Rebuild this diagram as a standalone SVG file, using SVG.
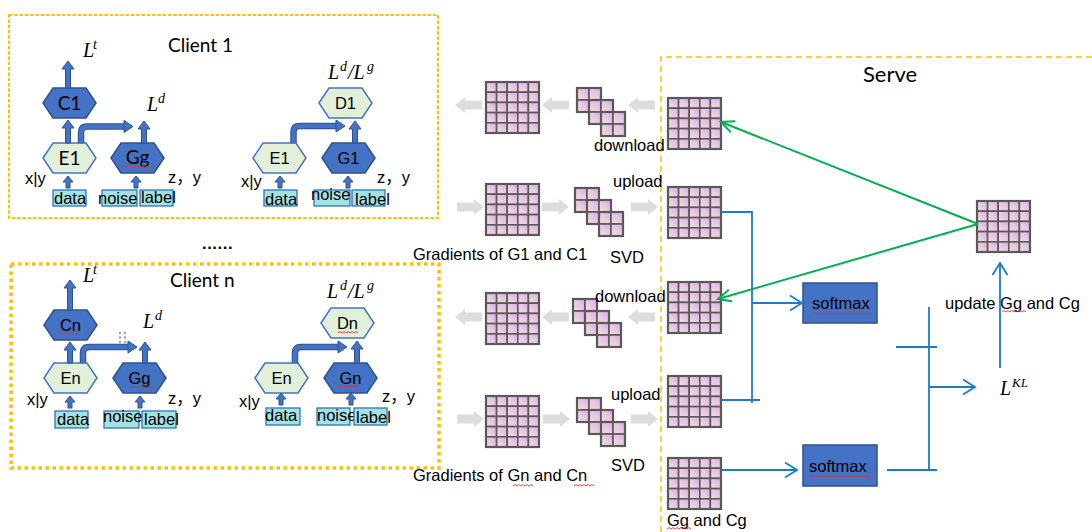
<svg xmlns="http://www.w3.org/2000/svg" width="1092" height="532" viewBox="0 0 1092 532">
<style>
.t{font-family:"Liberation Sans",Arial,sans-serif;font-size:16.5px;fill:#000}
.cal{font-family:Lato,"Open Sans",sans-serif;fill:#000}
.m{font-family:"Liberation Serif","Times New Roman",serif;font-style:italic;font-size:20px;fill:#000}
.sup{font-size:14px}
.hb{fill:#4472C4;stroke:#2F528F;stroke-width:1.5}
.hl{fill:#E2F0D9;stroke:#4472C4;stroke-width:1.5}
.bx{fill:#A3E2E4;stroke:#2E75B6;stroke-width:1.3}
.ba{fill:#4472C4;stroke:#2F528F;stroke-width:1}
.bo{fill:none;stroke:#2F528F;stroke-width:6.5}
.bi{fill:none;stroke:#4472C4;stroke-width:4.5}
.ga{fill:#DDDDDD}
.c{fill:url(#cell);stroke:#595959;stroke-width:1.6}
.blk{fill:none;stroke:#595959;stroke-width:2.2}
.gl{fill:none;stroke:#00B050;stroke-width:2}
.bl{fill:none;stroke:#1F7BC8;stroke-width:1.8}
.sq{fill:none;stroke:#E03030;stroke-width:0.9}
.sm{fill:#4472C4;stroke:#2F528F;stroke-width:1.5}
</style>
<defs>
  <linearGradient id="cell" x1="0" y1="1" x2="1" y2="0">
    <stop offset="0" stop-color="#F4E2CC"/>
    <stop offset="0.55" stop-color="#E6C5E6"/>
    <stop offset="1" stop-color="#D5A9E6"/>
  </linearGradient>
  <!-- 5x5 weight matrix -->
  <g id="mat">
    <rect class="c" x="0" y="0" width="10.6" height="10.2"/><rect class="c" x="10.6" y="0" width="10.6" height="10.2"/><rect class="c" x="21.2" y="0" width="10.6" height="10.2"/><rect class="c" x="31.8" y="0" width="10.6" height="10.2"/><rect class="c" x="42.4" y="0" width="10.6" height="10.2"/>
    <rect class="c" x="0" y="10.2" width="10.6" height="10.2"/><rect class="c" x="10.6" y="10.2" width="10.6" height="10.2"/><rect class="c" x="21.2" y="10.2" width="10.6" height="10.2"/><rect class="c" x="31.8" y="10.2" width="10.6" height="10.2"/><rect class="c" x="42.4" y="10.2" width="10.6" height="10.2"/>
    <rect class="c" x="0" y="20.4" width="10.6" height="10.2"/><rect class="c" x="10.6" y="20.4" width="10.6" height="10.2"/><rect class="c" x="21.2" y="20.4" width="10.6" height="10.2"/><rect class="c" x="31.8" y="20.4" width="10.6" height="10.2"/><rect class="c" x="42.4" y="20.4" width="10.6" height="10.2"/>
    <rect class="c" x="0" y="30.6" width="10.6" height="10.2"/><rect class="c" x="10.6" y="30.6" width="10.6" height="10.2"/><rect class="c" x="21.2" y="30.6" width="10.6" height="10.2"/><rect class="c" x="31.8" y="30.6" width="10.6" height="10.2"/><rect class="c" x="42.4" y="30.6" width="10.6" height="10.2"/>
    <rect class="c" x="0" y="40.8" width="10.6" height="10.2"/><rect class="c" x="10.6" y="40.8" width="10.6" height="10.2"/><rect class="c" x="21.2" y="40.8" width="10.6" height="10.2"/><rect class="c" x="31.8" y="40.8" width="10.6" height="10.2"/><rect class="c" x="42.4" y="40.8" width="10.6" height="10.2"/>
    <rect class="blk" x="0" y="0" width="53" height="51" stroke-width="1.8"/>
  </g>
  <!-- SVD block-diagonal factors -->
  <g id="blk2">
    <rect class="c" x="0" y="0" width="12" height="12"/><rect class="c" x="12" y="0" width="12" height="12"/>
    <rect class="c" x="0" y="12" width="12" height="12"/><rect class="c" x="12" y="12" width="12" height="12"/>
    <rect class="blk" x="0" y="0" width="24" height="24"/>
  </g>
  <g id="svd">
    <use href="#blk2"/>
    <use href="#blk2" x="12" y="12"/>
    <use href="#blk2" x="24" y="24"/>
  </g>
  <!-- grey transfer arrow, tip at origin pointing left -->
  <path id="gar" class="ga" d="M0,0 L10,-8 V-4.5 H27 V4.5 H10 V8 Z"/>
  <marker id="ag" markerUnits="userSpaceOnUse" markerWidth="20" markerHeight="20" viewBox="-16 -10 20 20" refX="0" refY="0" orient="auto">
    <path d="M-13,-6 L0,0 L-13,6" fill="none" stroke="#00B050" stroke-width="2"/>
  </marker>
  <marker id="ab" markerUnits="userSpaceOnUse" markerWidth="20" markerHeight="20" viewBox="-16 -10 20 20" refX="0" refY="0" orient="auto">
    <path d="M-12,-7.5 L0,0 L-12,7.5" fill="none" stroke="#1F7BC8" stroke-width="1.8"/>
  </marker>
</defs>

<rect width="1092" height="532" fill="#FFFFFF"/>

<!-- frames -->
<g id="frames">
  <rect x="9" y="15" width="429" height="203" fill="none" stroke="#FFC000" stroke-width="2.2" stroke-dasharray="3.5 1.8"/>
  <rect x="11" y="264" width="428" height="204" fill="none" stroke="#FFC000" stroke-width="3.5" stroke-dasharray="3.5 3.5"/>
  <path d="M661,532 V57 H1092" fill="none" stroke="#FFC000" stroke-width="1.5" stroke-dasharray="6 4"/>
  <text class="cal" x="168" y="52" font-size="19">Client 1</text>
  <text class="cal" x="170" y="287" font-size="19">Client n</text>
  <text class="cal" x="863" y="82" font-size="22">Serve</text>
  <text class="t" x="202" y="249" font-size="20" font-weight="bold" letter-spacing="0.6">......</text>
</g>

<!-- Client 1 -->
<g id="client1-C1"><polygon class="hb" points="43,103 53,88 86,88 96,103 86,118 53,118"/><text class="cal" x="69.5" y="110" font-size="19" text-anchor="middle">C1</text></g>
<g id="client1-E1"><polygon class="hl" points="43,158 53,143 86,143 96,158 86,173 53,173"/><text class="cal" x="69.5" y="165" font-size="19" text-anchor="middle">E1</text></g>
<g id="client1-Gg"><polygon class="hb" points="111,158 121,143 154,143 164,158 154,173 121,173"/><text class="cal" x="137.5" y="164" font-size="19" text-anchor="middle">Gg</text>
  <path class="sq" d="M123,167l2,-1.5l2,1.5l2,-1.5l2,1.5l2,-1.5l2,1.5l2,-1.5l2,1.5l2,-1.5l2,1.5l2,-1.5l2,1.5l2,-1.5l2,1.5"/></g>
<g id="client1-data"><rect class="bx" x="53" y="190" width="33" height="16"/><text class="t" x="54" y="204" font-size="16">data</text></g>
<g id="client1-noise"><rect class="bx" x="102" y="190" width="35" height="16"/><text class="t" x="98" y="204" font-size="16">noise</text></g>
<g id="client1-label"><rect class="bx" x="140" y="190" width="33" height="16"/><text class="t" x="141" y="203" font-size="15">label</text></g>
<g id="client1-labels">
  <text class="m" x="83" y="57">L<tspan class="sup" x="93" y="49">t</tspan></text>
  <text class="m" x="147" y="111">L<tspan class="sup" x="158" y="103">d</tspan></text>
  <text class="t" x="25" y="184" font-size="16">x|y</text>
  <text class="t" x="168" y="183" font-size="16">z<tspan font-family="'Noto Sans CJK SC',sans-serif">，</tspan>y</text>
</g>

<g id="client1-D1"><polygon class="hl" points="319,103 329,88 362,88 372,103 362,118 329,118"/><text class="t" x="345.5" y="109" font-size="16.5" text-anchor="middle">D1</text></g>
<g id="client1-E1b"><polygon class="hl" points="253,158 263,143 296,143 306,158 296,173 263,173"/><text class="t" x="279.5" y="164" font-size="16.5" text-anchor="middle">E1</text></g>
<g id="client1-G1"><polygon class="hb" points="322,158 332,143 365,143 375,158 365,173 332,173"/><text class="t" x="348.5" y="164" font-size="16.5" text-anchor="middle">G1</text></g>
<g id="client1-data2"><rect class="bx" x="264" y="190" width="33" height="16"/><text class="t" x="265" y="205" font-size="16.5">data</text></g>
<g id="client1-noise2"><rect class="bx" x="314" y="190" width="36" height="16"/><text class="t" x="311" y="200" font-size="16.5">noise</text></g>
<g id="client1-label2"><rect class="bx" x="352" y="190" width="33" height="16"/><text class="t" x="355" y="205" font-size="17">label</text></g>
<g id="client1-labels2">
  <text class="m" x="328" y="79">L<tspan class="sup" x="340" y="71">d</tspan><tspan x="348" y="79">/L</tspan><tspan class="sup" x="367" y="71">g</tspan></text>
  <text class="t" x="241" y="187" font-size="16">x|y</text>
  <text class="t" x="377" y="183" font-size="16">z<tspan font-family="'Noto Sans CJK SC',sans-serif">，</tspan>y</text>
</g>

<!-- Client n -->
<g id="clientn-Cn"><polygon class="hb" points="44,325 54,310 87,310 97,325 87,340 54,340"/><text class="t" x="70.5" y="331" font-size="16.5" text-anchor="middle">Cn</text>
  <path class="sq" d="M60,334l2,-1.5l2,1.5l2,-1.5l2,1.5l2,-1.5l2,1.5l2,-1.5l2,1.5l2,-1.5l2,1.5"/></g>
<g id="clientn-En"><polygon class="hl" points="44,378 54,363 87,363 97,378 87,393 54,393"/><text class="t" x="70.5" y="384" font-size="16.5" text-anchor="middle">En</text></g>
<g id="clientn-Gg"><polygon class="hb" points="113,378 123,363 156,363 166,378 156,393 123,393"/><text class="t" x="139.5" y="384" font-size="16.5" text-anchor="middle">Gg</text>
  <path class="sq" d="M130,388l2,-1.5l2,1.5l2,-1.5l2,1.5l2,-1.5l2,1.5l2,-1.5l2,1.5l2,-1.5l2,1.5l2,-1.5l2,1.5"/></g>
<g id="clientn-data"><rect class="bx" x="55" y="411" width="33" height="17"/><text class="t" x="57" y="425" font-size="16.5">data</text></g>
<g id="clientn-noise"><rect class="bx" x="104" y="411" width="35" height="17"/><text class="t" x="103" y="422" font-size="16.3">noise</text></g>
<g id="clientn-label"><rect class="bx" x="142" y="411" width="34" height="17"/><text class="t" x="144" y="425" font-size="17.5">label</text></g>
<g id="clientn-handle" fill="#A0A0A0">
  <circle cx="120" cy="333" r="1.2"/><circle cx="125" cy="333" r="1.2"/>
  <circle cx="120" cy="337.5" r="1.2"/><circle cx="125" cy="337.5" r="1.2"/>
  <circle cx="120" cy="342" r="1.2"/><circle cx="125" cy="342" r="1.2"/>
</g>
<g id="clientn-labels">
  <text class="m" x="83" y="282">L<tspan class="sup" x="93" y="274">t</tspan></text>
  <text class="m" x="143" y="328">L<tspan class="sup" x="155" y="320">d</tspan></text>
  <text class="t" x="27" y="405" font-size="16">x|y</text>
  <text class="t" x="168" y="404" font-size="16">z<tspan font-family="'Noto Sans CJK SC',sans-serif">，</tspan>y</text>
</g>

<g id="clientn-Dn"><polygon class="hl" points="321,323 331,308 364,308 374,323 364,338 331,338"/><text class="t" x="347.5" y="329" font-size="16.5" text-anchor="middle">Dn</text>
  <path class="sq" d="M338,333l2,-1.5l2,1.5l2,-1.5l2,1.5l2,-1.5l2,1.5l2,-1.5l2,1.5l2,-1.5l2,1.5"/></g>
<g id="clientn-En2"><polygon class="hl" points="255,378 265,363 298,363 308,378 298,393 265,393"/><text class="t" x="281.5" y="384" font-size="16.5" text-anchor="middle">En</text></g>
<g id="clientn-Gn"><polygon class="hb" points="324,378 334,363 367,363 377,378 367,393 334,393"/><text class="t" x="350.5" y="384" font-size="16.5" text-anchor="middle">Gn</text>
  <path class="sq" d="M337,387l2,-1.5l2,1.5l2,-1.5l2,1.5l2,-1.5l2,1.5l2,-1.5l2,1.5l2,-1.5l2,1.5"/></g>
<g id="clientn-data2"><rect class="bx" x="266" y="408" width="34" height="17"/><text class="t" x="265" y="421" font-size="17.5">data</text></g>
<g id="clientn-noise2"><rect class="bx" x="317" y="408" width="33" height="17"/><text class="t" x="317" y="421" font-size="15">noise</text></g>
<g id="clientn-label2"><rect class="bx" x="354" y="408" width="33" height="17"/><text class="t" x="356" y="423" font-size="18">label</text></g>
<g id="clientn-labels2">
  <text class="m" x="327" y="298">L<tspan class="sup" x="340" y="290">d</tspan><tspan x="348" y="298">/L</tspan><tspan class="sup" x="367" y="290">g</tspan></text>
  <text class="t" x="239" y="407" font-size="16">x|y</text>
  <text class="t" x="382" y="402" font-size="16">z<tspan font-family="'Noto Sans CJK SC',sans-serif">，</tspan>y</text>
</g>

<!-- gradient matrices and SVD factors -->
<g id="mat-g1-down"><use href="#mat" x="486" y="82"/></g>
<g id="svd-g1-down"><use href="#svd" x="577" y="88"/></g>
<g id="mat-g1-up"><use href="#mat" x="486" y="184"/></g>
<g id="svd-g1-up"><use href="#svd" x="575" y="188"/></g>
<g id="mat-gn-down"><use href="#mat" x="486" y="293"/></g>
<g id="svd-gn-down"><use href="#svd" x="573" y="299"/></g>
<g id="mat-gn-up"><use href="#mat" x="486" y="396"/></g>
<g id="svd-gn-up"><use href="#svd" x="577" y="398"/></g>
<g id="mid-labels">
  <text class="t" x="594" y="151">download</text>
  <text class="t" x="613" y="187">upload</text>
  <text class="t" x="413" y="260">Gradients of G1 and C1</text>
  <text class="t" x="610" y="263">SVD</text>
  <text class="t" x="595" y="302">download</text>
  <text class="t" x="611" y="400">upload</text>
  <text class="t" x="611" y="471">SVD</text>
  <text class="t" x="413" y="481">Gradients of Gn and Cn</text>
  <path class="sq" d="M513,486l2,-1.5l2,1.5l2,-1.5l2,1.5l2,-1.5l2,1.5l2,-1.5l2,1.5l2,-1.5l2,1.5"/>
  <path class="sq" d="M574,486l2,-1.5l2,1.5l2,-1.5l2,1.5l2,-1.5l2,1.5l2,-1.5l2,1.5l2,-1.5l2,1.5"/>
</g>

<!-- server -->
<g id="srv-m1"><use href="#mat" x="668" y="98"/></g>
<g id="srv-m2"><use href="#mat" x="668" y="187"/></g>
<g id="srv-m3"><use href="#mat" x="668" y="282"/></g>
<g id="srv-m4"><use href="#mat" x="668" y="376"/></g>
<g id="srv-m5"><use href="#mat" x="668" y="458"/></g>
<g id="srv-global"><use href="#mat" x="977" y="201"/></g>
<g id="softmax1"><rect class="sm" x="803" y="283" width="74" height="40"/><text class="t" x="812" y="309">softmax</text>
  <path class="sq" d="M812,314l2,-1.5l2,1.5l2,-1.5l2,1.5l2,-1.5l2,1.5l2,-1.5l2,1.5l2,-1.5l2,1.5l2,-1.5l2,1.5l2,-1.5l2,1.5l2,-1.5l2,1.5l2,-1.5l2,1.5l2,-1.5l2,1.5l2,-1.5l2,1.5l2,-1.5l2,1.5l2,-1.5l2,1.5l2,-1.5l2,1.5l2,-1.5l2,1.5"/></g>
<g id="softmax2"><rect class="sm" x="803" y="445" width="74" height="41"/><text class="t" x="809" y="472">softmax</text>
  <path class="sq" d="M809,477l2,-1.5l2,1.5l2,-1.5l2,1.5l2,-1.5l2,1.5l2,-1.5l2,1.5l2,-1.5l2,1.5l2,-1.5l2,1.5l2,-1.5l2,1.5l2,-1.5l2,1.5l2,-1.5l2,1.5l2,-1.5l2,1.5l2,-1.5l2,1.5l2,-1.5l2,1.5l2,-1.5l2,1.5l2,-1.5l2,1.5l2,-1.5l2,1.5"/></g>
<g id="srv-labels">
  <text class="m" x="1000" y="395">L<tspan font-size="13" x="1012" y="387">KL</tspan></text>
  <text class="t" x="945" y="309">update Gg and Cg</text>
  <path class="sq" d="M1002,312l2,-1.5l2,1.5l2,-1.5l2,1.5l2,-1.5l2,1.5l2,-1.5l2,1.5l2,-1.5l2,1.5l2,-1.5l2,1.5"/>
  <text class="t" x="667" y="526">Gg and Cg</text>
  <path class="sq" d="M667,529l2,-1.5l2,1.5l2,-1.5l2,1.5l2,-1.5l2,1.5l2,-1.5l2,1.5l2,-1.5l2,1.5l2,-1.5l2,1.5"/>
</g>

<!-- connectors -->
<g id="connectors">
  <!-- client block arrows -->
  <path class="ba" d="M65.5,88V69H62L68,61L74,69H70.5V88Z"/>
  <path class="ba" d="M65.5,143V128H62L68,120L74,128H70.5V143Z"/>
  <path class="ba" d="M141.5,143V129H138L144,121L150,129H146.5V143Z"/>
  <path class="ba" d="M352.5,143V129H349L355,121L361,129H357.5V143Z"/>
  <path class="ba" d="M67.5,310V288H64L70,280L76,288H72.5V310Z"/>
  <path class="ba" d="M67.5,363V350H64L70,342L76,350H72.5V363Z"/>
  <path class="ba" d="M142.5,363V350H139L145,342L151,350H147.5V363Z"/>
  <path class="ba" d="M354.5,363V349H351L357,341L363,349H359.5V363Z"/>
  <path class="ba" d="M66,188V182H63L68,176L73,182H70V188Z"/>
  <path class="ba" d="M134,188V182H131L136,176L141,182H138V188Z"/>
  <path class="ba" d="M278,188V182H275L280,176L285,182H282V188Z"/>
  <path class="ba" d="M346,188V182H343L348,176L353,182H350V188Z"/>
  <path class="ba" d="M68,408V402H65L70,396L75,402H72V408Z"/>
  <path class="ba" d="M138,408V402H135L140,396L145,402H142V408Z"/>
  <path class="ba" d="M279,405V399H276L281,393L286,399H283V405Z"/>
  <path class="ba" d="M349,405V399H346L351,393L356,399H353V405Z"/>
  <!-- bent arrows from encoders -->
  <path class="bo" d="M81,143 V132.5 Q81,126.5 87,126.5 H125"/><path class="bi" d="M81,143.5 V132.5 Q81,126.5 87,126.5 H126"/><polygon class="ba" points="124,120.5 133,126.5 124,132.5"/>
  <path class="bo" d="M293.5,143 V132 Q293.5,126 299.5,126 H337"/><path class="bi" d="M293.5,143.5 V132 Q293.5,126 299.5,126 H338"/><polygon class="ba" points="336,120 345,126 336,132"/>
  <path class="bo" d="M83,363 V353 Q83,347 89,347 H129"/><path class="bi" d="M83,363.5 V353 Q83,347 89,347 H130"/><polygon class="ba" points="128,341 137,347 128,353"/>
  <path class="bo" d="M295,363 V353 Q295,347 301,347 H339"/><path class="bi" d="M295,363.5 V353 Q295,347 301,347 H340"/><polygon class="ba" points="338,341 347,347 338,353"/>
  <!-- grey transfer arrows -->
  <use href="#gar" transform="translate(455,105)"/>
  <use href="#gar" transform="translate(542,105)"/>
  <use href="#gar" transform="translate(628,105)"/>
  <use href="#gar" transform="translate(484,207) scale(-1,1)"/>
  <use href="#gar" transform="translate(569,207) scale(-1,1)"/>
  <use href="#gar" transform="translate(658,207) scale(-1,1)"/>
  <use href="#gar" transform="translate(455,317)"/>
  <use href="#gar" transform="translate(542,317)"/>
  <use href="#gar" transform="translate(628,317)"/>
  <use href="#gar" transform="translate(484,419) scale(-1,1)"/>
  <use href="#gar" transform="translate(570,419) scale(-1,1)"/>
  <use href="#gar" transform="translate(658,419) scale(-1,1)"/>
  <!-- server -->
  <path class="gl" d="M978,224 L721,122" marker-end="url(#ag)"/>
  <path class="gl" d="M978,224 L718,299" marker-end="url(#ag)"/>
  <path class="bl" d="M721,212 H752 V403"/>
  <path class="bl" d="M721,400 H760"/>
  <path class="bl" d="M752,303 H802" marker-end="url(#ab)"/>
  <path class="bl" d="M721,470 H797" marker-end="url(#ab)"/>
  <path class="bl" d="M887,470 H937"/>
  <path class="bl" d="M929,307 V470"/>
  <path class="bl" d="M896,347 H937"/>
  <path class="bl" d="M929,387 H975" marker-end="url(#ab)"/>
  <path class="bl" d="M1000,368 V263" marker-end="url(#ab)"/>
</g>
</svg>
